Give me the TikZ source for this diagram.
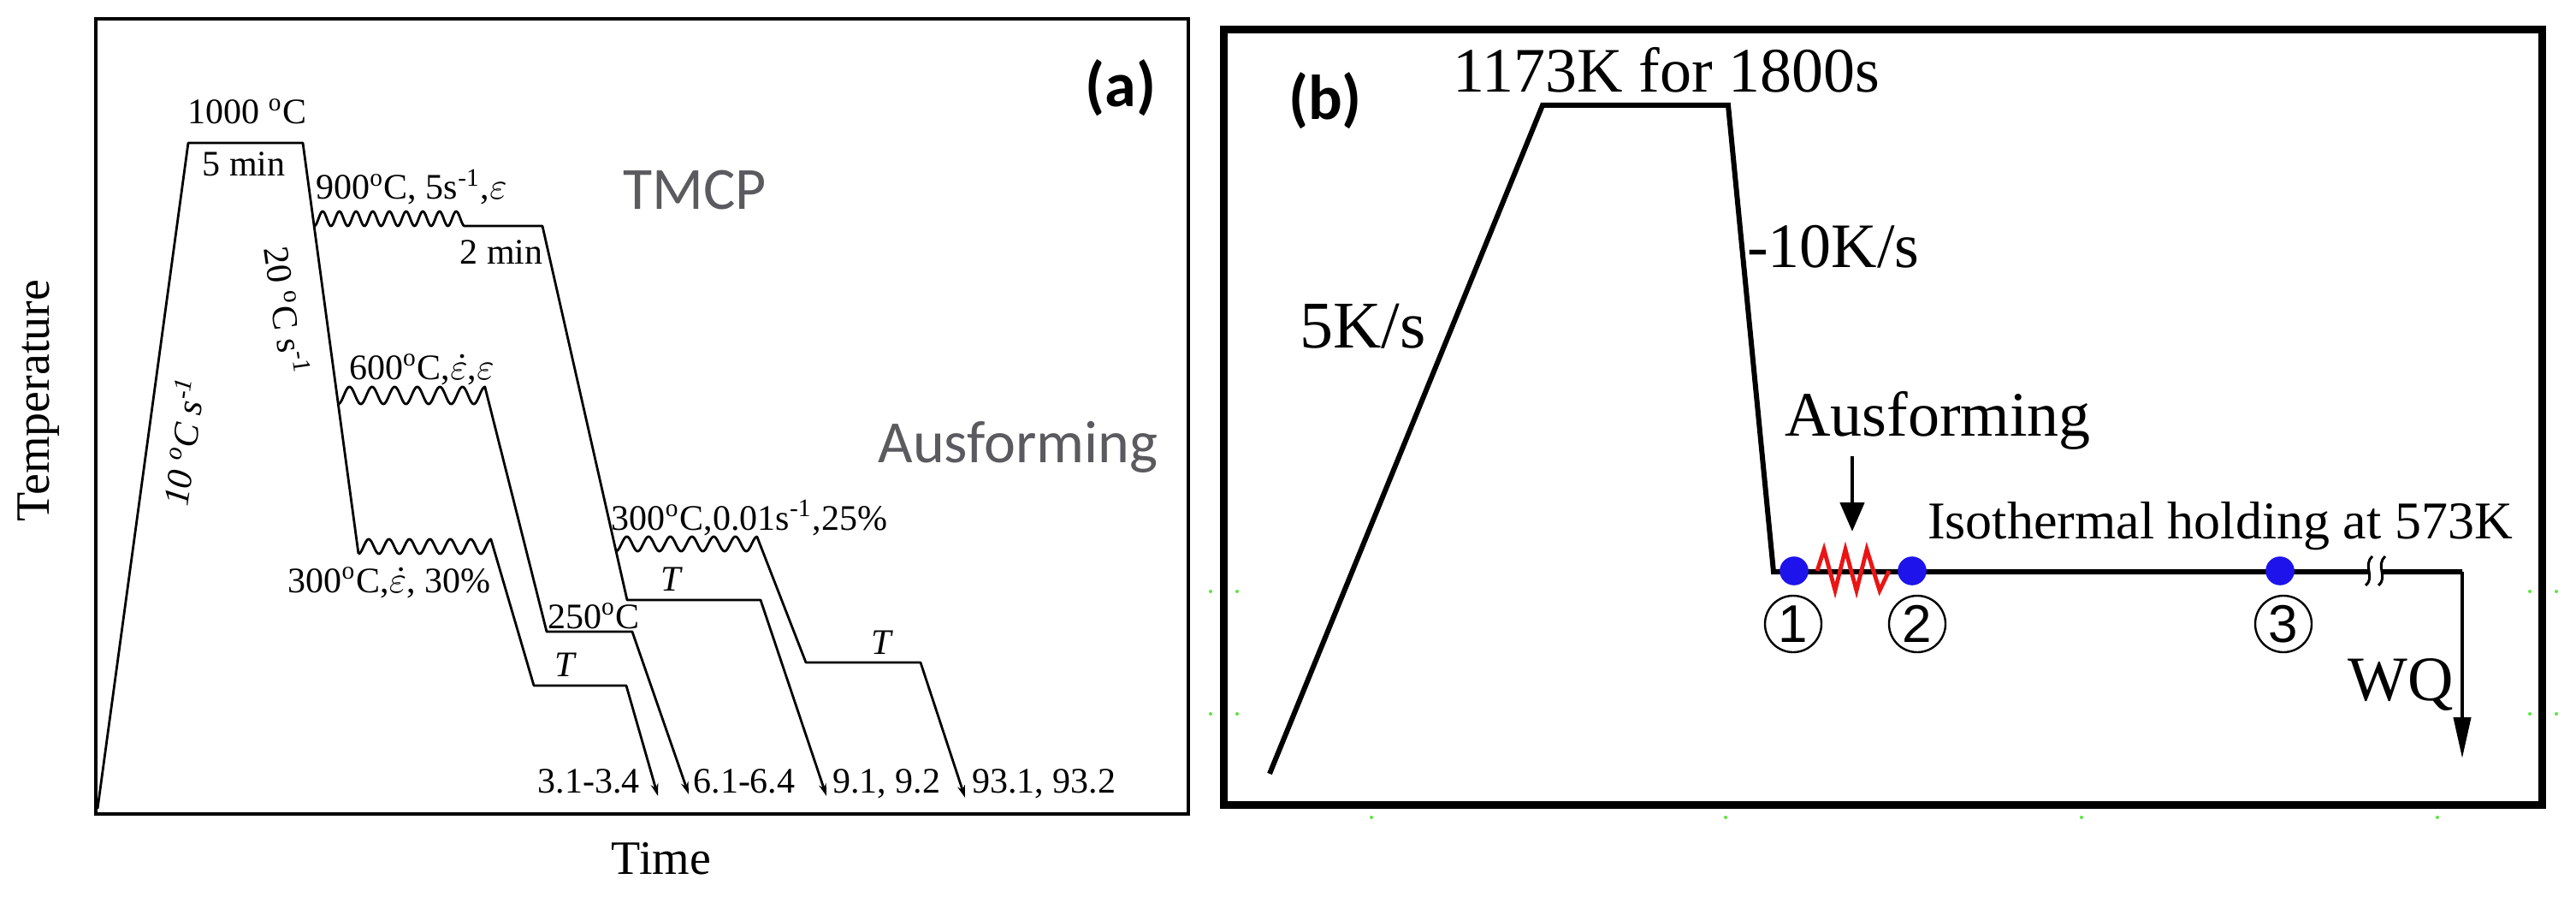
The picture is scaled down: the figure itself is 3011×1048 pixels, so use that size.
\documentclass[tikz,border=0pt]{standalone}
\usepackage{fontspec}
\setmainfont{Liberation Serif}
\newfontfamily\calfont{Carlito}
\newfontfamily\arialfont{Liberation Sans}
\usetikzlibrary{arrows.meta}
\definecolor{tmcpgray}{RGB}{90,90,95}
\definecolor{dotblue}{RGB}{30,20,235}
\definecolor{zigred}{RGB}{235,20,20}
\definecolor{specgreen}{RGB}{90,230,60}
\begin{document}
\begin{tikzpicture}[x=0.25pt,y=-0.25pt,
  curveA/.style={line width=0.7pt, line join=round},
  arrA/.style={-{Stealth[length=3.6pt,width=2.2pt]}},
  lblA/.style={font=\fontsize{10.5}{12}\selectfont, inner sep=0pt, anchor=base},
  lblB/.style={font=\fontsize{18.5}{22}\selectfont, inner sep=0pt, anchor=base},
  axlbl/.style={font=\fontsize{14}{16}\selectfont, inner sep=0pt},
  grey/.style={font=\calfont\fontsize{17.5}{20}\selectfont, text=tmcpgray, anchor=base, inner sep=0pt},
  panel/.style={font=\calfont\bfseries\fontsize{18.5}{22}\selectfont, inner sep=0pt},
  circnum/.style={circle, draw, line width=0.6pt, minimum size=16.5pt, inner sep=0pt, font=\arialfont\fontsize{15.5}{16}\selectfont},
  bdot/.style={fill=dotblue},
  speck/.style={fill=specgreen}
]
\fill[white] (0,0) rectangle (3011,1048);
\useasboundingbox (0,0) rectangle (3011,1048);

% ================= panel (a) =================
\draw[line width=1pt] (112,22) rectangle (1389,951);

% main heating / holding / cooling
\draw[curveA] (114,945) -- (220,167) -- (354,167) -- (419,647);
% branch 900C -> 2 min -> T -> 9.1
\draw[curveA, arrA] (367.4,264) -- plot[domain=0:1, samples=200] ({367.4+175.6*\x},{264-8.5*(1-cos(360*9*\x))})
   -- (634,264) -- (733,701) -- (889,701) -- (966,930);
% branch 300C 0.01 -> T -> 93
\draw[curveA, arrA] (720,644) -- plot[domain=0:1, samples=200] ({720+165*\x},{644-8.5*(1-cos(360*6.5*\x))})
   -- (942,774) -- (1076,774) -- (1128,932);
% branch 600C -> 250C -> 6.1
\draw[curveA, arrA] (395.3,472) -- plot[domain=0:1, samples=200] ({395.3+171.7*\x},{472-10*(1-cos(360*6.5*\x))})
   -- (639,738) -- (739,738) -- (805,928);
% branch 300C 30% -> T -> 3.1
\draw[curveA, arrA] (419,647) -- plot[domain=0:1, samples=200] ({419+155*\x},{647-8.5*(1-cos(360*6.5*\x))})
   -- (624,801) -- (732,801) -- (769,930);

\node[lblA] (t1000) at (289,145) {1000 \textsuperscript{o}C};
\node[lblA] (t5min) at (285,206) {5 min};
\node[lblA] (t900) at (481,233) {900\textsuperscript{o}C, 5s\textsuperscript{-1},$\varepsilon$};
\node[lblA] (t2min) at (586,309) {2 min};
\node[lblA, anchor=center, rotate=-82] (t20) at (336,363) {20 \textsuperscript{o}C s\textsuperscript{-1}};
\node[lblA, anchor=center, rotate=82] (t10) at (213,516) {\itshape 10 \textsuperscript{o}C s\textsuperscript{-1}};
\node[lblA] (t600) at (493,443) {600\textsuperscript{o}C,$\dot{\varepsilon}$,$\varepsilon$};
\node[lblA] (t300a) at (455,692) {300\textsuperscript{o}C,$\dot{\varepsilon}$, 30\%};
\node[lblA] (t250) at (694,734) {250\textsuperscript{o}C};
\node[lblA] (tT1) at (660,790) {\itshape T};
\node[lblA] (tT2) at (784,690) {\itshape T};
\node[lblA] (tT3) at (1030,764) {\itshape T};
\node[lblA] (t300b) at (876,619) {300\textsuperscript{o}C,0.01s\textsuperscript{-1},25\%};
\node[lblA] (s3) at (688,926) {3.1-3.4};
\node[lblA] (s6) at (870,926) {6.1-6.4};
\node[lblA] (s9) at (1036,926) {9.1, 9.2};
\node[lblA] (s93) at (1220,926) {93.1, 93.2};

\node[axlbl, rotate=90] (ttemp) at (45,468) {Temperature};
\node[axlbl, anchor=base] (ttime) at (773,1021) {Time};
\node[grey] (ttmcp) at (812,245) {TMCP};
\node[grey] (tausa) at (1190,541) {Ausforming};
\node[panel] (la) at (1310,103) {(a)};

% ================= panel (b) =================
\draw[line width=2.25pt] (1430,35) rectangle (2971,940);
\node[panel] (lb) at (1549,118) {(b)};

\draw[line width=1.5pt] (1484,904) -- (1803,123) -- (2020,123) -- (2073,668) -- (2878,668);
\coordinate (wqTop) at (2878,668);
\coordinate (wqTip) at (2878,886);
\draw[line width=1pt, -{Triangle[length=12pt,width=5pt]}] (wqTop) -- (wqTip);

% break mark
\fill[white] (2768,662) rectangle (2784,674);
\draw[line width=0.75pt] (2773,650) .. controls (2761,661) and (2777,674) .. (2765,684);
\draw[line width=0.75pt] (2788,650) .. controls (2776,661) and (2792,674) .. (2780,684);

% ausforming arrow
\coordinate (ausTop) at (2165,533);
\coordinate (ausTip) at (2165,621);
\draw[line width=1.2pt, -{Triangle[length=8.5pt,width=7pt]}] (ausTop) -- (ausTip);

% red zigzag
\draw[zigred, line width=1.2pt, line join=miter] (2124,667) -- (2132,642) -- (2145,690) -- (2157,642) -- (2170,690) -- (2182,642) -- (2197,690) -- (2208,667);

% blue dots
\coordinate (p1) at (2097,667);
\coordinate (p2) at (2235,667);
\coordinate (p3) at (2665,667);
\fill[bdot] (p1) circle[radius=4.2pt];
\fill[bdot] (p2) circle[radius=4.2pt];
\fill[bdot] (p3) circle[radius=4.2pt];
\node[circnum] (c1) at (2096,729) {1};
\node[circnum] (c2) at (2241,729) {2};
\node[circnum] (c3) at (2669,729) {3};

\node[lblB] (t1173) at (1948,108) {1173K for 1800s};
\node[lblB] (t10k) at (2143,312) {-10K/s};
\node[lblB, font=\fontsize{19.5}{22}\selectfont] (t5k) at (1593,407) {5K/s};
\node[lblB] (tausb) at (2265,510) {Ausforming};
\node[lblB, font=\fontsize{15.5}{18}\selectfont] (tiso) at (2595,629) {Isothermal holding at 573K};
\node[lblB] (twq) at (2806,818) {WQ};

% green specks
\foreach \px/\py in {1415/691,1446/691,1415/834,1446/834,1603/955,2017/955,2433/955,2849/955,2957/691,2988/691,2957/834,2988/834}
  \fill[speck] (\px,\py) circle[radius=0.5pt];
\end{tikzpicture}
\end{document}
